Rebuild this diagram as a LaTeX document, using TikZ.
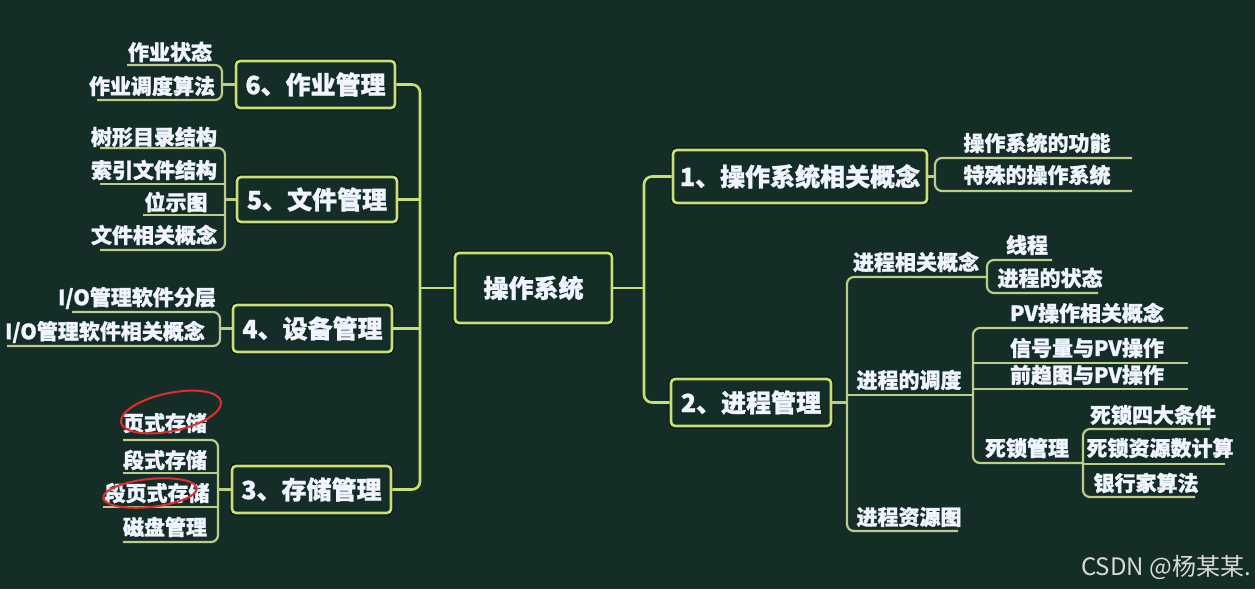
\documentclass[tikz,border=0pt]{standalone}
\usepackage{fontspec}
\newfontfamily\cjk{Noto Sans CJK SC}[BoldFeatures={FakeBold=1.3}]
\definecolor{bg}{RGB}{21,45,39}
\definecolor{lineg}{RGB}{200,224,118}
\definecolor{leafg}{RGB}{188,204,140}
\definecolor{txt}{RGB}{240,244,255}
\definecolor{circ}{RGB}{225,45,45}
\definecolor{wm}{RGB}{215,218,215}
\tikzset{
  mainbox/.style={draw=lineg, line width=2.6pt, rounded corners=4pt, fill=bg, text=txt,
    font=\cjk\bfseries\fontsize{25}{28}\selectfont, inner sep=0pt,
    preaction={draw=black!75!bg, line width=4.8pt}},
  leaf/.style={text=txt, font=\cjk\bfseries\fontsize{21}{24}\selectfont, inner sep=0pt},
  conn/.style={draw=lineg, line width=2.6pt, rounded corners=8pt},
  uline/.style={draw=leafg, line width=2.2pt, rounded corners=7pt},
  redring/.style={draw=circ, line width=2pt},
}
\begin{document}
\begin{tikzpicture}[x=1pt,y=-1pt]
\fill[bg] (0,0) rectangle (1255,589);
\useasboundingbox (0,0) rectangle (1255,589);

% main boxes
\node[mainbox, minimum width=157pt, minimum height=70pt] (root) at (533.5,288) {操作系统};
\node[mainbox, minimum width=254pt, minimum height=53pt] (b1) at (800,176.5) {1、操作系统相关概念};
\node[mainbox, minimum width=160pt, minimum height=47pt] (b2) at (751,402.5) {2、进程管理};
\node[mainbox, minimum width=159pt, minimum height=47pt] (b6) at (315.5,84.5) {6、作业管理};
\node[mainbox, minimum width=160pt, minimum height=45pt] (b5) at (317,199.5) {5、文件管理};
\node[mainbox, minimum width=159pt, minimum height=47pt] (b4) at (312.5,328.5) {4、设备管理};
\node[mainbox, minimum width=159pt, minimum height=47pt] (b3) at (311.5,489.5) {3、存储管理};

% main connectors
\coordinate (lv) at (420,288);
\coordinate (rv) at (644,288);
\draw[conn] (b6.east) -| (lv) |- (b3.east);
\draw[conn] (b5.east) -- (b5.east -| lv);
\draw[conn] (b4.east) -- (b4.east -| lv);
\draw[conn] (root.west) -- (lv);
\draw[conn] (b1.west) -| (rv) |- (b2.west);
\draw[conn] (root.east) -- (rv);

% ---- group 6
\node[leaf] (l61) at (170,52) {作业状态};
\node[leaf] (l62) at (152,86) {作业调度算法};
\coordinate (u61) at (127,65);
\coordinate (u62) at (97,100);
\coordinate (k6) at (222,84.5);
\draw[uline] (u61) -| (k6) |- (u62);
\draw[uline] (k6) -- (b6.west);

% ---- group 5
\node[leaf] (l51) at (154,137) {树形目录结构};
\node[leaf] (l52) at (154,170) {索引文件结构};
\node[leaf] (l53) at (176,202) {位示图};
\node[leaf] (l54) at (154,235) {文件相关概念};
\coordinate (u51) at (100,148);
\coordinate (u52) at (100,184);
\coordinate (u53) at (143,215);
\coordinate (u54) at (100,250);
\coordinate (k5) at (225,199.5);
\draw[uline] (u51) -| (k5) |- (u54);
\draw[uline] (u52) -- (u52 -| k5);
\draw[uline] (u53) -- (u53 -| k5);
\draw[uline] (k5) -- (b5.west);

% ---- group 4
\node[leaf] (l41) at (137,298) {I/O管理软件分层};
\node[leaf] (l42) at (105,332) {I/O管理软件相关概念};
\coordinate (u41) at (72,312);
\coordinate (u42) at (7,346);
\coordinate (k4) at (220,328.5);
\draw[uline] (u41) -| (k4) |- (u42);
\draw[uline] (k4) -- (b4.west);

% ---- group 3
\node[leaf] (l31) at (165,423) {页式存储};
\node[leaf] (l32) at (165,460) {段式存储};
\node[leaf] (l33) at (157,493) {段页式存储};
\node[leaf] (l34) at (165,527) {磁盘管理};
\coordinate (u31) at (123,440);
\coordinate (u32) at (123,473);
\coordinate (u33) at (103,507);
\coordinate (u34) at (123,542);
\coordinate (k3) at (218,489.5);
\draw[uline] (u31) -| (k3) |- (u34);
\draw[uline] (u32) -- (u32 -| k3);
\draw[uline] (u33) -- (u33 -| k3);
\draw[uline] (k3) -- (b3.west);

% red marks
\draw[redring] (171,412) ellipse [x radius=51pt, y radius=19pt, rotate=12];
\draw[redring] (150,493) ellipse [x radius=47pt, y radius=14pt, rotate=6];

% ---- group 1
\node[leaf] (r11) at (1037,143) {操作系统的功能};
\node[leaf] (r12) at (1037,175) {特殊的操作系统};
\coordinate (e11) at (1132,158);
\coordinate (e12) at (1132,191);
\coordinate (k1) at (935,176.5);
\draw[uline] (e11) -| (k1) |- (e12);
\draw[uline] (b1.east) -- (k1);

% ---- group 2
\node[leaf] (r21) at (916,262) {进程相关概念};
\node[leaf] (r22) at (909,380) {进程的调度};
\node[leaf] (r23) at (909,517) {进程资源图};
\coordinate (k2) at (847,402.5);
\coordinate (k21) at (987,277);
\coordinate (k22) at (973,395);
\coordinate (e23) at (958,531);
\draw[uline] (k21) -| (k2) |- (e23);
\draw[uline] (k22) -- (k22 -| k2);
\draw[uline] (b2.east) -- (k2);

% ---- group 2.1
\node[leaf] (r211) at (1027,245) {线程};
\node[leaf] (r212) at (1050,278) {进程的状态};
\coordinate (e211) at (1052,260);
\coordinate (e212) at (1098,293);
\draw[uline] (e211) -| (k21) |- (e212);

% ---- group 2.2
\node[leaf] (r221) at (1087,313) {PV操作相关概念};
\node[leaf] (r222) at (1087,348) {信号量与PV操作};
\node[leaf] (r223) at (1087,375) {前趋图与PV操作};
\node[leaf] (r224) at (1027,448) {死锁管理};
\coordinate (e221) at (1188,328);
\coordinate (e222) at (1188,363);
\coordinate (e223) at (1188,389);
\coordinate (k23) at (1083,463);
\draw[uline] (e221) -| (k22) |- (k23);
\draw[uline] (e222) -- (e222 -| k22);
\draw[uline] (e223) -- (e223 -| k22);

% ---- group 2.3
\node[leaf] (r231) at (1153,415) {死锁四大条件};
\node[leaf] (r232) at (1160,448) {死锁资源数计算};
\node[leaf] (r233) at (1146,483) {银行家算法};
\coordinate (e231) at (1210,429);
\coordinate (e232) at (1225,464);
\coordinate (e233) at (1195,497);
\draw[uline] (e231) -| (k23) |- (e233);
\draw[uline] (e232) -- (e232 -| k23);

% watermark
\node[font=\cjk\fontsize{24}{26}\selectfont, text=wm, anchor=east, inner sep=0pt] (wmk) at (1251,567) {CSDN @杨某某.};
\end{tikzpicture}
\end{document}
